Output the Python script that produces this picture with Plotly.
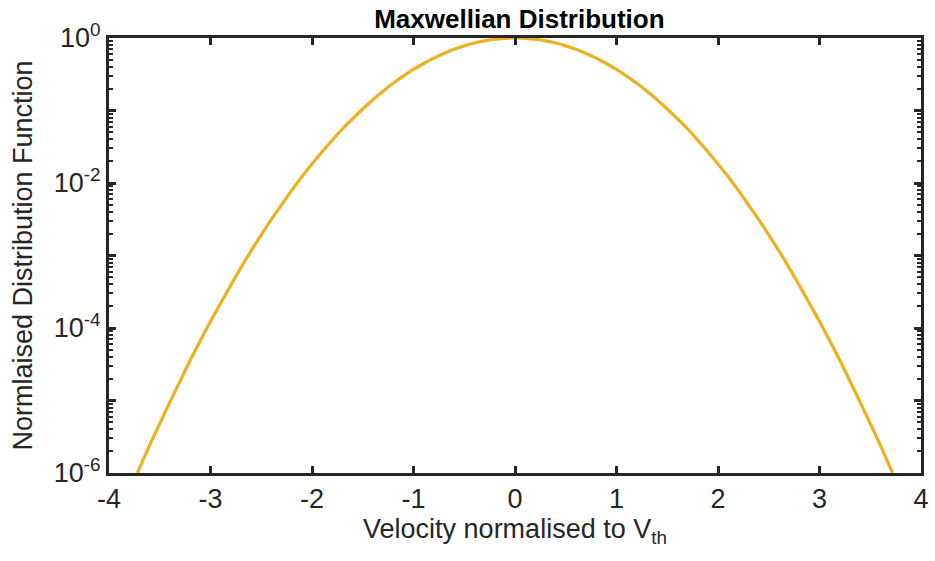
import plotly.graph_objects as go

velocity = [-3.72, -3.6, -3.5, -3.4, -3.3, -3.2, -3.1, -3.0, -2.9, -2.8, -2.7, -2.6, -2.5, -2.4, -2.3, -2.2, -2.1,
            -2.0, -1.9, -1.8, -1.7, -1.6, -1.5, -1.4, -1.3, -1.2, -1.1, -1.0, -0.9, -0.8, -0.7, -0.6, -0.5, -0.4, -0.3,
            -0.2, -0.1, 0.0, 0.1, 0.2, 0.3, 0.4, 0.5, 0.6, 0.7, 0.8, 0.9, 1.0, 1.1, 1.2, 1.3, 1.4, 1.5, 1.6, 1.7, 1.8,
            1.9, 2.0, 2.1, 2.2, 2.3, 2.4, 2.5, 2.6, 2.7, 2.8, 2.9, 3.0, 3.1, 3.2, 3.3, 3.4, 3.5, 3.6, 3.72]
distribution = [1.0e-6, 2.4e-6, 4.8e-6, 9.5e-6, 1.85e-5, 3.6e-5, 6.7e-5, 1.23e-4, 2.2e-4, 3.9e-4, 6.8e-4,
                1.16e-3, 1.93e-3, 3.15e-3, 5.0e-3, 7.9e-3, 1.22e-2, 1.83e-2, 2.7e-2, 3.9e-2, 5.6e-2, 7.7e-2, 0.105,
                0.141, 0.185, 0.237, 0.298, 0.368, 0.445, 0.527, 0.613, 0.698, 0.779, 0.852, 0.914, 0.961, 0.990, 1.0,
                0.990, 0.961, 0.914, 0.852, 0.779, 0.698, 0.613, 0.527, 0.445, 0.368, 0.298, 0.237, 0.185, 0.141, 0.105,
                7.7e-2, 5.6e-2, 3.9e-2, 2.7e-2, 1.83e-2, 1.22e-2, 7.9e-3, 5.0e-3, 3.15e-3, 1.93e-3, 1.16e-3, 6.8e-4,
                3.9e-4, 2.2e-4, 1.23e-4, 6.7e-5, 3.6e-5, 1.85e-5, 9.5e-6, 4.8e-6, 2.4e-6, 1.0e-6]

x_ticks = [-4, -3, -2, -1, 0, 1, 2, 3, 4]
y_tick_vals = [1e-6, 1e-5, 1e-4, 1e-3, 1e-2, 1e-1, 1]
y_tick_text = ["10<sup>-6</sup>", "", "10<sup>-4</sup>", "", "10<sup>-2</sup>", "", "10<sup>0</sup>"]

axis_color = "#262626"
font_family = "Liberation Sans"

fig = go.Figure()
fig.add_trace(go.Scatter(
    x=velocity, y=distribution, mode="lines",
    line=dict(color="#EDB120", width=3.2, shape="spline", smoothing=0.8),
    showlegend=False,
))

fig.update_layout(
    width=935, height=561,
    margin=dict(l=109, r=6, t=38, b=88),
    paper_bgcolor="white", plot_bgcolor="white",
    font=dict(family=font_family, size=26, color=axis_color),
    title=dict(text="<b>Maxwellian Distribution</b>", x=0.5555, xanchor="center",
               y=0.966, yanchor="middle",
               font=dict(family=font_family, size=26, color="black")),
)

fig.update_xaxes(
    range=[-4, 4], tickvals=x_ticks, ticktext=[str(t) for t in x_ticks],
    ticks="inside", ticklen=7, tickwidth=2.5, tickcolor=axis_color,
    showline=True, linewidth=3, linecolor=axis_color, mirror="ticks",
    showgrid=False, zeroline=False,
    tickfont=dict(family=font_family, size=27, color=axis_color),
    title=dict(text="Velocity normalised to V<sub>th</sub>",
               font=dict(family=font_family, size=27, color=axis_color), standoff=6),
)

fig.update_yaxes(
    type="log", range=[-6, 0], tickvals=y_tick_vals, ticktext=y_tick_text,
    ticks="inside", ticklen=7, tickwidth=2.5, tickcolor=axis_color,
    showline=True, linewidth=3, linecolor=axis_color, mirror="ticks",
    showgrid=False, zeroline=False,
    tickfont=dict(family=font_family, size=27, color=axis_color),
    minor=dict(ticks="inside", ticklen=4, tickwidth=2, tickcolor=axis_color, dtick="D1", showgrid=False),
    title=dict(text="Normlaised Distribution Function",
               font=dict(family=font_family, size=27, color=axis_color), standoff=14),
)

fig.write_html("out.html")
